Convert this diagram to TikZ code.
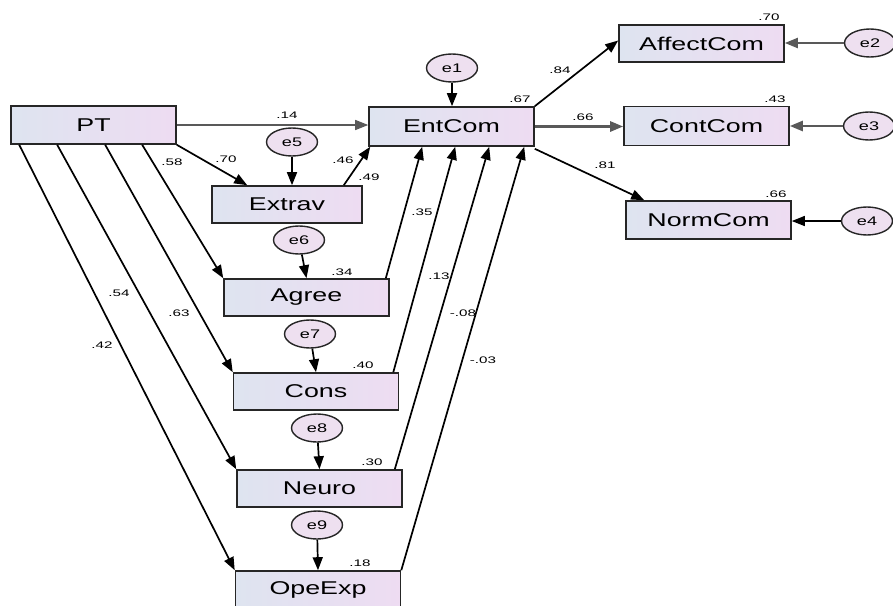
\documentclass[tikz,border=0pt]{standalone}
\usepackage{fontspec}
\setmainfont{Liberation Sans}
\newfontfamily\boxf{Liberation Sans}[FakeStretch=1.45]
\newfontfamily\ellf{Liberation Sans}[FakeStretch=1.45]
\newfontfamily\lblf{Liberation Sans}[FakeStretch=1.6]
\usetikzlibrary{arrows.meta,shapes.geometric,calc}
\definecolor{boxL}{RGB}{222,228,240}
\definecolor{boxR}{RGB}{238,220,242}
\definecolor{ellC}{RGB}{238,224,240}
\tikzset{
  var/.style={rectangle,draw=black!85,line width=1.6pt,left color=boxL,right color=boxR,
    minimum width=165pt,minimum height=38pt,inner sep=0pt,
    font=\boxf\fontsize{18.5}{20}\selectfont},
  err/.style={ellipse,draw=black!85,line width=1.4pt,fill=ellC,minimum width=51pt,minimum height=28pt,inner sep=0pt,
    font=\ellf\fontsize{12.5}{14}\selectfont},
  lbl/.style={inner sep=0pt,font=\lblf\fontsize{9.5}{10}\selectfont},
  arr/.style={line width=1.7pt,-{Triangle[length=13pt,width=10pt]}},
  garr/.style={draw=black!65,line width=2pt,-{Triangle[length=13pt,width=10pt]}}
}
\begin{document}
\begin{tikzpicture}[x=1pt,y=-1pt]
\useasboundingbox (0,0) rectangle (893,605);
% boxes
\node[var] (PT) at (93.5,125) {PT};
\node[var,minimum height=39pt] (EntCom) at (451.5,126.5) {EntCom};
\node[var,minimum height=37pt] (AffectCom) at (701.5,43.5) {AffectCom};
\node[var,minimum height=39pt] (ContCom) at (706.5,126) {ContCom};
\node[var] (NormCom) at (708.5,220) {NormCom};
\node[var,minimum width=150pt,minimum height=37pt] (Extrav) at (287,204.5) {Extrav};
\node[var,minimum height=37pt] (Agree) at (306.5,297.5) {Agree};
\node[var,minimum height=37pt] (Cons) at (316,391.5) {Cons};
\node[var,minimum height=37pt] (Neuro) at (319.5,488.5) {Neuro};
\node[var,minimum height=37pt] (OpeExp) at (318,589.5) {OpeExp};
% errors
\node[err] (e1) at (452,68) {e1};
\node[err] (e2) at (870,43) {e2};
\node[err] (e3) at (869,126) {e3};
\node[err] (e4) at (867,221) {e4};
\node[err] (e5) at (292,142) {e5};
\node[err] (e6) at (299,240) {e6};
\node[err] (e7) at (310,334) {e7};
\node[err] (e8) at (317,428) {e8};
\node[err] (e9) at (317,525) {e9};
% error arrows
\draw[arr] (e1) -- (e1 |- EntCom.north);
\draw[garr] (e2) -- (e2 -| AffectCom.east);
\draw[garr,line width=2.6pt] (e3) -- (e3 -| ContCom.east);
\draw[arr,line width=1.3pt] (e4) -- (e4 -| NormCom.east);
\draw[arr] (e5) -- (e5 |- Extrav.north);
\draw[arr] (e6) -- (Agree.north);
\draw[arr] (e7) -- (Cons.north);
\draw[arr] (e8) -- (Neuro.north);
\draw[arr] (e9) -- (OpeExp.north);
% PT paths
\draw[garr,line width=1.5pt] (PT.east) -- (PT.east -| EntCom.west);
\draw[arr] (PT.south east) -- ([xshift=36pt]Extrav.north west);
\draw[arr] ([xshift=132pt]PT.south west) -- (Agree.north west);
\draw[arr] ([xshift=95pt]PT.south west) -- (Cons.north west);
\draw[arr] ([xshift=47pt]PT.south west) -- (Neuro.north west);
\draw[arr] ([xshift=9pt]PT.south west) -- (OpeExp.north west);
% to EntCom
\draw[arr] ([xshift=-19pt]Extrav.north east) -- ([xshift=2pt]EntCom.south west);
\draw[arr] ([xshift=-4pt]Agree.north east) -- ([xshift=54pt]EntCom.south west);
\draw[arr] ([xshift=-6pt]Cons.north east) -- ([xshift=87pt]EntCom.south west);
\draw[arr] ([xshift=-8pt]Neuro.north east) -- ([xshift=121pt]EntCom.south west);
\draw[arr] (OpeExp.north east) -- ([xshift=156pt]EntCom.south west);
% from EntCom
\draw[arr] (EntCom.north east) -- ([yshift=3pt]AffectCom.west);
\draw[garr,line width=2.6pt] (EntCom.east) -- (EntCom.east -| ContCom.west);
\draw[arr] ([yshift=-2pt]EntCom.south east) -- ([xshift=19pt]NormCom.north west);
% labels
\node[lbl] (l14) at (287,115) {.14};
\node[lbl] (l70a) at (226,159) {.70};
\node[lbl] (l58) at (172,162) {.58};
\node[lbl] (l46) at (343,160) {.46};
\node[lbl] (l49) at (369,177) {.49};
\node[lbl] (l67) at (520,99) {.67};
\node[lbl] (l84) at (560,70) {.84};
\node[lbl] (l66a) at (583,117) {.66};
\node[lbl] (l81) at (605,165) {.81};
\node[lbl] (l70b) at (769,17) {.70};
\node[lbl] (l43) at (775,99) {.43};
\node[lbl] (l66b) at (776,194) {.66};
\node[lbl] (l34) at (342,272) {.34};
\node[lbl] (l40) at (363,365) {.40};
\node[lbl] (l30) at (372,462) {.30};
\node[lbl] (l18) at (360,563) {.18};
\node[lbl] (l54) at (119,293) {.54};
\node[lbl] (l63) at (179,313) {.63};
\node[lbl] (l42) at (102,345) {.42};
\node[lbl] (l35) at (422,212) {.35};
\node[lbl] (l13) at (439,276) {.13};
\node[lbl] (l08) at (463,313) {-.08};
\node[lbl] (l03) at (483,360) {-.03};
\end{tikzpicture}
\end{document}
